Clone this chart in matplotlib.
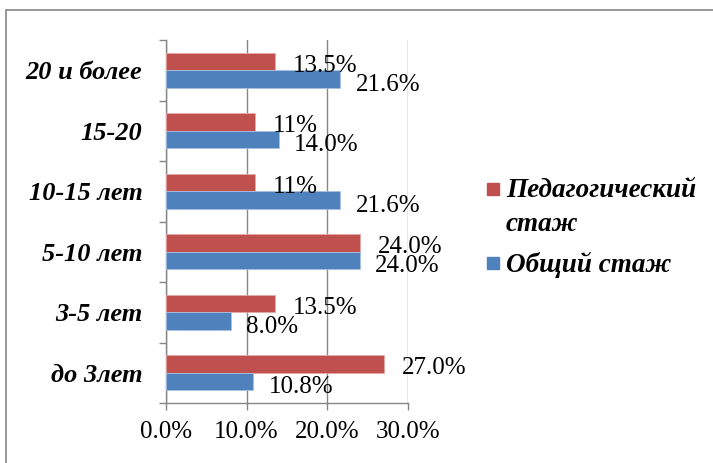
import matplotlib
matplotlib.use('Agg')
import matplotlib.pyplot as plt
from matplotlib.patches import Rectangle
from matplotlib.ticker import FixedLocator

# стаж работы педагогов, доли в процентах
categories = ['до 3лет', '3-5 лет', '5-10 лет', '10-15 лет', '15-20', '20 и более']
ped_stazh = [27.0, 13.5, 24.0, 11, 11, 13.5]
ped_labels = ['27.0%', '13.5%', '24.0%', '11%', '11%', '13.5%']
obsh_stazh = [10.8, 8.0, 24.0, 21.6, 14.0, 21.6]
obsh_labels = ['10.8%', '8.0%', '24.0%', '21.6%', '14.0%', '21.6%']
xticks = [0, 10, 20, 30]
xtick_labels = ['0.0%', '10.0%', '20.0%', '30.0%']

red = '#C0504D'
blue = '#4F81BD'
gray = '#868686'

plt.rcParams['font.family'] = ['Liberation Serif', 'DejaVu Serif']

W, H = 713, 463
fig = plt.figure(figsize=(W/100, H/100), dpi=100)
ax = fig.add_axes([166/W, 60/H, 242/W, 363/H])

# рамка вокруг диаграммы
fig.patches.append(Rectangle((6/W, -0.1), 1.1, 1.1 - 10/H,
                             transform=fig.transFigure, fill=False,
                             edgecolor=gray, linewidth=1.2))

h = 0.29
ys = list(range(len(categories)))
ax.barh([y + h/2 for y in ys], ped_stazh, height=h, color=red,
        edgecolor='#E6A9A8', linewidth=0.6, zorder=3)
ax.barh([y - h/2 for y in ys], obsh_stazh, height=h, color=blue,
        edgecolor='#A9C1E0', linewidth=0.6, zorder=3)

for y, v, s in zip(ys, ped_stazh, ped_labels):
    ax.annotate(s, (v, y + h/2), xytext=(13, -3), textcoords='offset points',
                ha='left', va='center', fontsize=18, zorder=4)
for y, v, s in zip(ys, obsh_stazh, obsh_labels):
    ax.annotate(s, (v, y - h/2), xytext=(11, -4), textcoords='offset points',
                ha='left', va='center', fontsize=18, zorder=4)

ax.set_xlim(0, 30)
ax.set_ylim(-0.5, len(categories) - 0.5)
ax.set_xticks(xticks)
ax.set_xticklabels(xtick_labels, fontsize=18)
ax.set_yticks(ys)
ax.set_yticklabels(categories, fontsize=19, fontweight='bold', fontstyle='italic')
ax.yaxis.set_minor_locator(FixedLocator([y - 0.5 for y in range(len(categories) + 1)]))
ax.tick_params(axis='y', which='major', length=0, pad=17)
ax.tick_params(axis='y', which='minor', length=5, color=gray, width=1)
ax.tick_params(axis='x', length=5, color=gray, width=1, pad=8)

ax.grid(axis='x', color=gray, linewidth=1, zorder=0)
for side in ['top', 'right']:
    ax.spines[side].set_visible(False)
for side in ['left', 'bottom']:
    ax.spines[side].set_color(gray)
    ax.spines[side].set_linewidth(1)

# легенда: квадратный маркер у первой строки подписи
legend_items = [(red, 'Педагогический\nстаж', 189), (blue, 'Общий стаж', 263)]
for color, text, yc in legend_items:
    fig.patches.append(Rectangle((487/W, 1 - (yc + 6)/H), 12/W, 12/H,
                                 transform=fig.transFigure, color=color))
    fig.text(506/W, 1 - (yc - 11)/H, text, ha='left', va='top',
             fontsize=19.5, fontweight='bold', fontstyle='italic',
             linespacing=1.45)

fig.savefig('out.png', dpi=100)
